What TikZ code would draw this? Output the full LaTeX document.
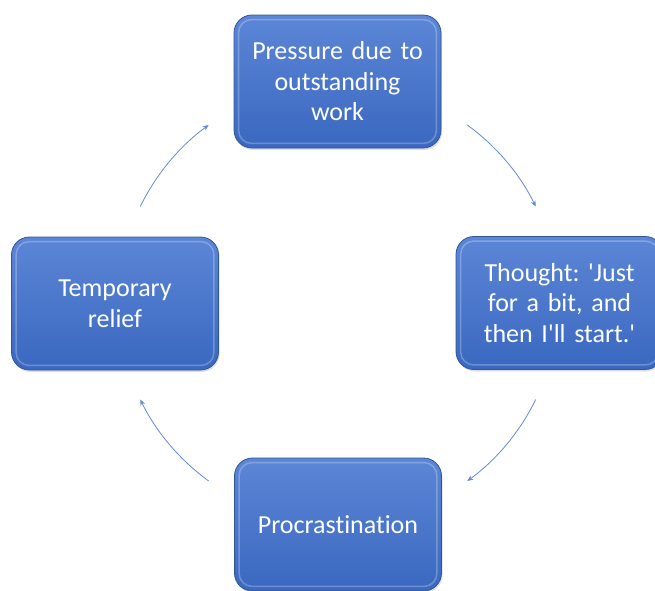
\documentclass[tikz,border=0pt]{standalone}
\usepackage{fontspec}
\setmainfont{Carlito}[Ligatures={TeX,NoCommon}]
\usetikzlibrary{arrows.meta, shadows}
\frenchspacing

\definecolor{boxtop}{RGB}{92,134,214}
\definecolor{boxbot}{RGB}{58,104,192}
\definecolor{boxline}{RGB}{47,85,151}
\definecolor{arcblue}{RGB}{96,138,214}

\tikzset{
    box/.style={rectangle, rounded corners=18pt, draw=boxline, line width=0.8pt,
        top color=boxtop, bottom color=boxbot, text=white,
        minimum width=207pt, minimum height=133pt, text width=195pt, align=center,
        font=\fontsize{26}{30.5}\selectfont,
        drop shadow={opacity=0.25, shadow xshift=1pt, shadow yshift=-2pt}},
    bevel/.style={rounded corners=13pt, draw=white, draw opacity=0.25, line width=1.5pt},
    cyc/.style={draw=arcblue, line width=0.8pt, -{Stealth[length=6pt, width=5pt]}}
}

\begin{document}
\begin{tikzpicture}[x=1pt, y=1pt]
    \useasboundingbox (0,0) rectangle (655,-590);
    \node[box] (top) at (337.5,-81.5) {Pressure due to\\outstanding\\work};
    \node[box] (right) at (559.5,-303) {Thought: \textquotesingle Just\\for a bit, and\\then I\textquotesingle ll start.\textquotesingle};
    \node[box] (bottom) at (338,-524.5) {Procrastination};
    \node[box] (left) at (115,-303.5) {Temporary\\relief};
    \foreach \n in {top, right, bottom, left}
        \draw[bevel] ([shift={(5,-5)}]\n.north west) rectangle ([shift={(-5,5)}]\n.south east);
    % arcs round the cycle
    \coordinate (c) at (338,-303);
    \foreach \a in {154, 54, -26, -126}
        \draw[cyc] ([shift={(\a:220)}]c) arc[start angle=\a, end angle=\a-28, radius=220];
\end{tikzpicture}
\end{document}
